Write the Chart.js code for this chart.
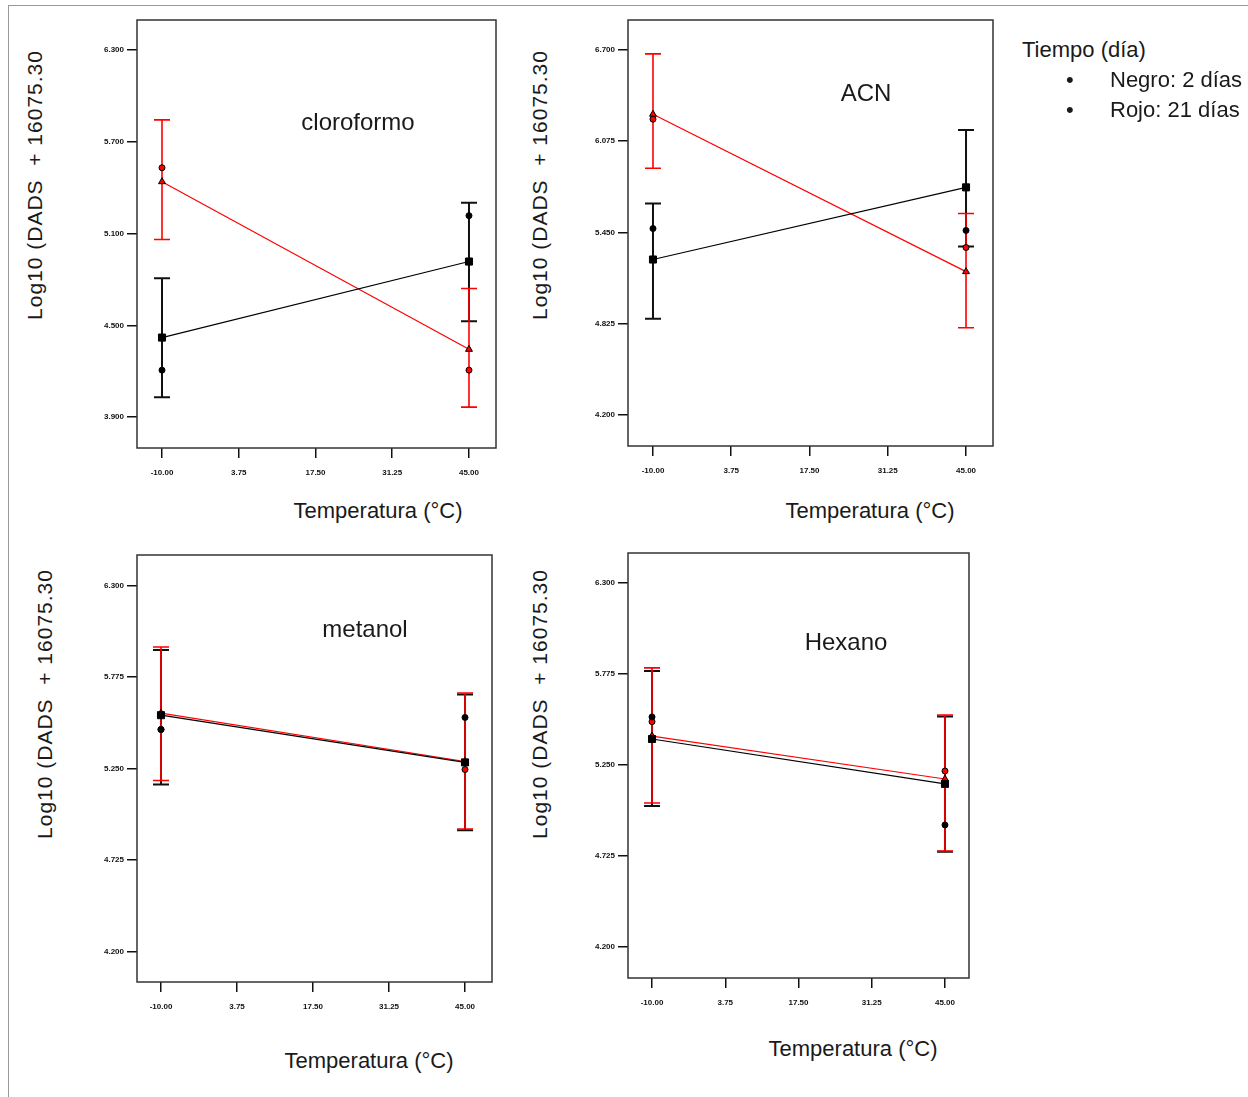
<!DOCTYPE html>
<html>
<head>
<meta charset="utf-8">
<script src="https://cdn.jsdelivr.net/npm/chart.js@4.4.0/dist/chart.umd.min.js"></script>
<style>
body { margin: 0; background: #fff; font-family: 'Liberation Sans', Arial, sans-serif; }
#page { position: relative; width: 1248px; height: 1097px; overflow: hidden; background: #fff; }
#frame { position: absolute; left: 8px; top: 5px; width: 1240px; height: 1092px; border-left: 1px solid #999; border-top: 1px solid #999; }
canvas { position: absolute; }
.label { position: absolute; white-space: pre; transform: translate(-50%, -50%); color: #1a1a1a; }
.ytitle { transform: translate(-50%, -50%) rotate(-90deg); font-size: 21px; letter-spacing: 1px; }
.xtitle { font-size: 22px; }
.ptitle { font-size: 24px; }
.leg { position: absolute; white-space: pre; font-size: 22px; color: #1a1a1a; transform: translateY(-50%); }
</style>
</head>
<body>
<div id="page">
  <div id="frame"></div>

  <canvas id="cloroformo" width="450" height="490" style="left:60px;top:0px"></canvas>
  <canvas id="acn" width="450" height="490" style="left:560px;top:0px"></canvas>
  <canvas id="metanol" width="450" height="490" style="left:60px;top:530px"></canvas>
  <canvas id="hexano" width="450" height="490" style="left:560px;top:530px"></canvas>

  <div class="label ptitle" style="left:358px;top:122px">cloroformo</div>
  <div class="label ptitle" style="left:866px;top:93px">ACN</div>
  <div class="label ptitle" style="left:365px;top:629px">metanol</div>
  <div class="label ptitle" style="left:846px;top:642px">Hexano</div>

  <div class="label ytitle" style="left:35px;top:185px">Log10 (DADS  + 16075.30</div>
  <div class="label ytitle" style="left:540px;top:185px">Log10 (DADS  + 16075.30</div>
  <div class="label ytitle" style="left:45px;top:704px">Log10 (DADS  + 16075.30</div>
  <div class="label ytitle" style="left:540px;top:704px">Log10 (DADS  + 16075.30</div>

  <div class="label xtitle" style="left:378px;top:511px">Temperatura (°C)</div>
  <div class="label xtitle" style="left:870px;top:511px">Temperatura (°C)</div>
  <div class="label xtitle" style="left:369px;top:1061px">Temperatura (°C)</div>
  <div class="label xtitle" style="left:853px;top:1049px">Temperatura (°C)</div>

  <div class="leg" style="left:1022px;top:50px">Tiempo (día)</div>
  <div class="leg" style="left:1066px;top:80px">•</div>
  <div class="leg" style="left:1110px;top:80px">Negro: 2 días</div>
  <div class="leg" style="left:1066px;top:110px">•</div>
  <div class="leg" style="left:1110px;top:110px">Rojo: 21 días</div>
</div>

<script>
const temperaturas = [-10, 45];
const ticksX = [-10, 3.75, 17.5, 31.25, 45];

// cloroformo
const ticksCloroformo = [3.9, 4.5, 5.1, 5.7, 6.3];
const cloroNegroMedia = [4.42, 4.917];
const cloroNegroInf = [4.03, 4.526];
const cloroNegroSup = [4.807, 5.302];
const cloroNegroPunto = [4.207, 5.217];
const cloroRojoMedia = [5.439, 4.343];
const cloroRojoInf = [5.061, 3.965];
const cloroRojoSup = [5.843, 4.741];
const cloroRojoPunto = [5.53, 4.207];

// ACN
const ticksAcn = [4.2, 4.825, 5.45, 6.075, 6.7];
const acnNegroMedia = [5.265, 5.759];
const acnNegroInf = [4.859, 5.354];
const acnNegroSup = [5.649, 6.151];
const acnNegroPunto = [5.477, 5.464];
const acnRojoMedia = [6.26, 5.182];
const acnRojoInf = [5.89, 4.798];
const acnRojoSup = [6.673, 5.58];
const acnRojoPunto = [6.226, 5.347];

// metanol
const ticksMetanol = [4.2, 4.725, 5.25, 5.775, 6.3];
const metNegroMedia = [5.556, 5.285];
const metNegroInf = [5.158, 4.895];
const metNegroSup = [5.93, 5.675];
const metNegroPunto = [5.474, 5.543];
const metRojoMedia = [5.568, 5.29];
const metRojoInf = [5.181, 4.903];
const metRojoSup = [5.947, 5.683];
const metRojoPunto = [5.474, 5.244];

// Hexano
const ticksHexano = [4.2, 4.725, 5.25, 5.775, 6.3];
const hexNegroMedia = [5.4, 5.141];
const hexNegroInf = [5.013, 4.75];
const hexNegroSup = [5.792, 5.53];
const hexNegroPunto = [5.527, 4.904];
const hexRojoMedia = [5.417, 5.169];
const hexRojoInf = [5.031, 4.754];
const hexRojoSup = [5.81, 5.538];
const hexRojoPunto = [5.5, 5.215];

const NEGRO = '#000000';
const ROJO = '#ff0000';

function pts(ys) {
    return temperaturas.map((x, i) => ({ x: x, y: ys[i] }));
}

// box around the plot area
const boxPlugin = {
    id: 'plotBox',
    afterDraw(chart) {
        const a = chart.chartArea;
        const ctx = chart.ctx;
        ctx.save();
        ctx.strokeStyle = '#333';
        ctx.lineWidth = 1.5;
        ctx.strokeRect(a.left, a.top, a.right - a.left, a.bottom - a.top);
        ctx.restore();
    }
};

// vertical error bars with caps
const errorBarPlugin = {
    id: 'errorBars',
    beforeDatasetsDraw(chart, args, opts) {
        const ctx = chart.ctx;
        const xs = chart.scales.x;
        const ys = chart.scales.y;
        ctx.save();
        (opts.bars || []).forEach(bar => {
            ctx.strokeStyle = bar.color;
            ctx.lineWidth = bar.width;
            temperaturas.forEach((t, i) => {
                const x = xs.getPixelForValue(t);
                const y1 = ys.getPixelForValue(bar.low[i]);
                const y2 = ys.getPixelForValue(bar.high[i]);
                ctx.beginPath();
                ctx.moveTo(x, y1);
                ctx.lineTo(x, y2);
                ctx.moveTo(x - 8, y1);
                ctx.lineTo(x + 8, y1);
                ctx.moveTo(x - 8, y2);
                ctx.lineTo(x + 8, y2);
                ctx.stroke();
            });
        });
        ctx.restore();
    }
};

function makePanel(id, cfg) {
    const ctx = document.getElementById(id).getContext('2d');
    return new Chart(ctx, {
        type: 'scatter',
        data: {
            datasets: [
                {
                    data: pts(cfg.negroMedia),
                    showLine: true,
                    borderColor: NEGRO,
                    borderWidth: 1.2,
                    pointStyle: 'rect',
                    pointRadius: 5,
                    pointBackgroundColor: NEGRO,
                    pointBorderColor: NEGRO,
                    pointBorderWidth: 1
                },
                {
                    data: pts(cfg.rojoMedia),
                    showLine: true,
                    borderColor: ROJO,
                    borderWidth: 1.2,
                    pointStyle: 'triangle',
                    pointRadius: 4,
                    pointBackgroundColor: ROJO,
                    pointBorderColor: NEGRO,
                    pointBorderWidth: 1
                },
                {
                    data: pts(cfg.negroPunto),
                    showLine: false,
                    pointStyle: 'circle',
                    pointRadius: 3,
                    pointBackgroundColor: NEGRO,
                    pointBorderColor: NEGRO
                },
                {
                    data: pts(cfg.rojoPunto),
                    showLine: false,
                    pointStyle: 'circle',
                    pointRadius: 3,
                    pointBackgroundColor: ROJO,
                    pointBorderColor: NEGRO,
                    pointBorderWidth: 1
                }
            ]
        },
        options: {
            responsive: false,
            animation: false,
            layout: { padding: { top: cfg.padTop, right: cfg.padRight, left: 0, bottom: 0 } },
            plugins: {
                legend: { display: false },
                tooltip: { enabled: false },
                errorBars: {
                    bars: [
                        { low: cfg.negroInf, high: cfg.negroSup, color: '#111', width: 2 },
                        { low: cfg.rojoInf, high: cfg.rojoSup, color: ROJO, width: 1.6 }
                    ]
                }
            },
            scales: {
                x: {
                    type: 'linear',
                    min: cfg.xMin,
                    max: cfg.xMax,
                    afterBuildTicks: s => { s.ticks = ticksX.map(v => ({ value: v })); },
                    afterFit: s => { s.height = cfg.xAxisH; },
                    border: { display: false },
                    grid: { drawOnChartArea: false, drawTicks: true, tickLength: 10, color: '#111', lineWidth: 1.5 },
                    ticks: {
                        autoSkip: false,
                        maxRotation: 0,
                        padding: 10,
                        color: '#111',
                        font: { family: 'Liberation Sans', size: 8, weight: 'bold' },
                        callback: v => v.toFixed(2)
                    }
                },
                y: {
                    type: 'linear',
                    min: cfg.yMin,
                    max: cfg.yMax,
                    afterBuildTicks: s => { s.ticks = cfg.yTicks.map(v => ({ value: v })); },
                    afterFit: s => { s.width = cfg.yAxisW; },
                    border: { display: false },
                    grid: { drawOnChartArea: false, drawTicks: true, tickLength: 10, color: '#111', lineWidth: 1.5 },
                    ticks: {
                        autoSkip: false,
                        padding: 3,
                        color: '#111',
                        font: { family: 'Liberation Sans', size: 8, weight: 'bold' },
                        callback: v => v.toFixed(3)
                    }
                }
            }
        },
        plugins: [boxPlugin, errorBarPlugin]
    });
}

makePanel('cloroformo', {
    negroMedia: cloroNegroMedia, negroInf: cloroNegroInf, negroSup: cloroNegroSup, negroPunto: cloroNegroPunto,
    rojoMedia: cloroRojoMedia, rojoInf: cloroRojoInf, rojoSup: cloroRojoSup, rojoPunto: cloroRojoPunto,
    yTicks: ticksCloroformo,
    xMin: -14.48, xMax: 49.84, yMin: 3.698, yMax: 6.496,
    padTop: 20, padRight: 14, yAxisW: 77, xAxisH: 42
});

makePanel('acn', {
    negroMedia: acnNegroMedia, negroInf: acnNegroInf, negroSup: acnNegroSup, negroPunto: acnNegroPunto,
    rojoMedia: acnRojoMedia, rojoInf: acnRojoInf, rojoSup: acnRojoSup, rojoPunto: acnRojoPunto,
    yTicks: ticksAcn,
    xMin: -14.39, xMax: 49.74, yMin: 3.988, yMax: 6.905,
    padTop: 20, padRight: 17, yAxisW: 68, xAxisH: 44
});

makePanel('metanol', {
    negroMedia: metNegroMedia, negroInf: metNegroInf, negroSup: metNegroSup, negroPunto: metNegroPunto,
    rojoMedia: metRojoMedia, rojoInf: metRojoInf, rojoSup: metRojoSup, rojoPunto: metRojoPunto,
    yTicks: ticksMetanol,
    xMin: -14.34, xMax: 49.88, yMin: 4.025, yMax: 6.475,
    padTop: 25, padRight: 18, yAxisW: 77, xAxisH: 38
});

makePanel('hexano', {
    negroMedia: hexNegroMedia, negroInf: hexNegroInf, negroSup: hexNegroSup, negroPunto: hexNegroPunto,
    rojoMedia: hexRojoMedia, rojoInf: hexRojoInf, rojoSup: hexRojoSup, rojoPunto: hexRojoPunto,
    yTicks: ticksHexano,
    xMin: -14.51, xMax: 49.51, yMin: 4.021, yMax: 6.473,
    padTop: 23, padRight: 41, yAxisW: 68, xAxisH: 42
});
</script>
</body>
</html>
